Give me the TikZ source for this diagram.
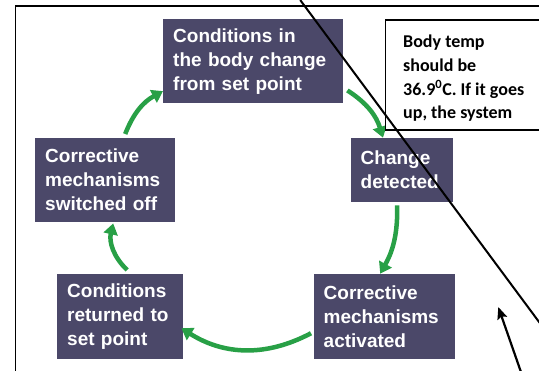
\documentclass[tikz,border=0pt]{standalone}
\usepackage{fontspec}
\usepackage{tikz}
\usepackage{xcolor}
\usetikzlibrary{arrows.meta,
	positioning}
\newfontfamily\boxfont{Liberation Sans}
\newfontfamily\notefont{Carlito}
\definecolor{stagebg}{RGB}{75,72,105}
\definecolor{cycgreen}{RGB}{40,160,70}
\tikzstyle{stage}=[fill=stagebg, text=white, anchor=north west, align=left,
		inner xsep=10pt, inner ysep=0pt, font=\boxfont\bfseries\fontsize{19}{24}\selectfont]
\tikzstyle{cyc}=[draw=cycgreen, line width=4.5pt, -{Triangle[length=11pt,width=14pt]}]
\tikzstyle{note}=[draw=black, fill=white, line width=1.3pt, anchor=north west, inner sep=0]
\tikzstyle{notetxt}=[anchor=north west, align=left, inner sep=0,
		font=\notefont\bfseries\fontsize{18}{23.7}\selectfont]
\tikzstyle{pen}=[draw=black, line width=2pt]

\begin{document}
\begin{tikzpicture}[x=1pt, y=1pt]
            \useasboundingbox (0,0) rectangle (539,-371);
            \clip (0,0) rectangle (539,-371);
            \draw[line width=1.8pt] (15.5,-390) -- (15.5,-6) -- (560,-6);

            \node[stage, minimum height=84.3pt, text width=160pt] (chg) at (163,-19) {Conditions in\\the body change\\from set point};
            \node[stage, minimum height=64pt, text width=82.5pt] (det) at (350.5,-137.7) {Change\\detected};
            \node[stage, minimum height=84.7pt, text width=121.5pt] (act) at (313.5,-273.7) {Corrective\\mechanisms\\activated};
            \node[stage, minimum height=84.7pt, text width=106pt] (ret) at (57,-273.7) {Conditions\\returned to\\set point};
            \node[stage, minimum height=84pt, text width=119.5pt] (off) at (35,-137.7) {Corrective\\mechanisms\\switched off};

            \draw[cyc] ([xshift=4pt,yshift=13.3pt]chg.south east) to[bend left=20] ([xshift=32.5pt]det.north west);
            \draw[cyc] ([xshift=-4.75pt,yshift=-3.3pt]det.south) to[bend left=15] ([xshift=-4.25pt]act.north);
            \draw[cyc] ([xshift=-2.5pt,yshift=-17pt]act.west) to[bend left=30] ([xshift=-2pt,yshift=-12pt]ret.east);
            \draw[cyc] ([xshift=7pt,yshift=3.7pt]ret.north) to[bend left=30] ([xshift=8.25pt,yshift=-1.3pt]off.south);
            \draw[cyc] ([xshift=20.25pt,yshift=3.7pt]off.north) to[bend left=20] ([yshift=-29.8pt]chg.west);

            \node[note, minimum width=180pt, minimum height=110pt] (memo) at (385,-19.3) {};
            \node[notetxt] (memotxt) at ([xshift=18pt,yshift=-15.5pt]memo.north west) {Body temp\\should be\\36.9\textsuperscript{0}C. If it goes\\up, the system};

            \coordinate (lnA) at (300.2,0);
            \coordinate (lnB) at (545,-330);
            \draw[pen] (lnA) -- (lnB);
            \coordinate (ptail) at (522,-375);
            \coordinate (ptip) at (498.3,-307);
            \draw[pen, line width=2.2pt, -{Stealth[length=12pt,width=10pt,inset=2pt]}] (ptail) -- (ptip);
\end{tikzpicture}
\end{document}
